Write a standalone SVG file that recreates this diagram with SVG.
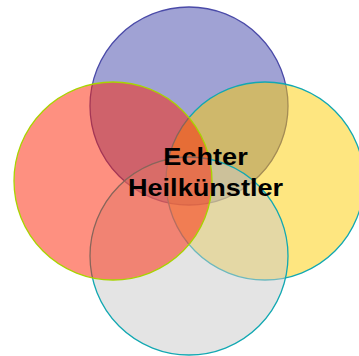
<svg xmlns="http://www.w3.org/2000/svg" width="359" height="356" viewBox="0 0 359 356">
<style>
.c{stroke-width:1.3}
.lbl{font-family:"Liberation Sans",Arial,sans-serif;font-weight:bold;font-size:24px;fill:#000;text-anchor:middle}
</style>
<rect width="359" height="356" fill="#fff"/>
<g id="top"><circle class="c" cx="189" cy="106" r="99" fill="rgba(65,69,169,0.5)" stroke="#4a4aa8"/></g>
<g id="right"><circle class="c" cx="265" cy="181" r="99" fill="rgba(253,205,1,0.5)" stroke="#12a8b2"/></g>
<g id="bottom"><circle class="c" cx="189" cy="256" r="99" fill="rgba(201,201,201,0.5)" stroke="#12a8b2"/></g>
<g id="left"><circle class="c" cx="113" cy="181" r="99" fill="rgba(253,33,1,0.5)" stroke="#a8d400"/></g>
<g id="label" transform="translate(205.5,0) scale(1.13,1)">
<text class="lbl" x="0" y="165.5">Echter</text>
<text class="lbl" x="0" y="196">Heilkünstler</text>
</g>
<g id="connectors"/>
</svg>
